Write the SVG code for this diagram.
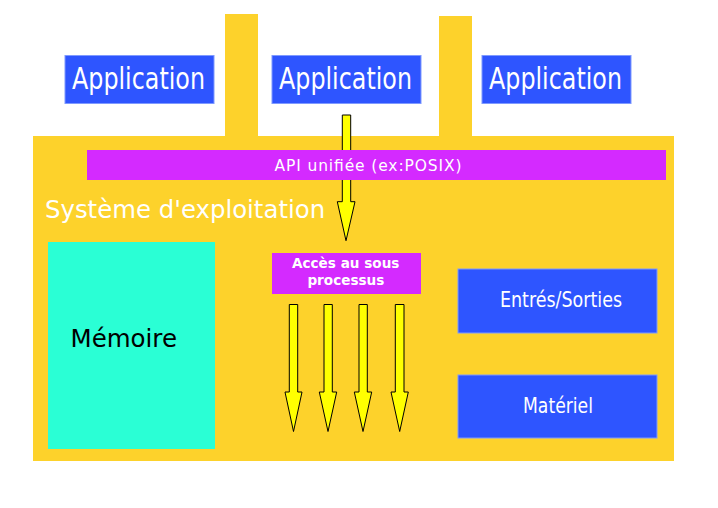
<svg xmlns="http://www.w3.org/2000/svg" width="718" height="508" viewBox="0 0 718 508">
<style>
.blue{fill:#2e55ff;stroke:#7f9aff;stroke-width:1}
.mag{fill:#d42aff}
.cond{font-family:"DejaVu Sans Condensed","DejaVu Sans",sans-serif;fill:#ffffff}
.sans{font-family:"DejaVu Sans",sans-serif}
.arr{fill:#ffff00;stroke:#000000;stroke-width:1;stroke-linejoin:miter}
</style>
<rect width="718" height="508" fill="#ffffff"/>
<g id="os">
<rect x="33" y="136" width="641" height="325" fill="#fdd22b"/>
<rect x="225" y="14" width="33" height="123" fill="#fdd22b"/>
<rect x="439" y="16" width="33" height="121" fill="#fdd22b"/>
<text x="45" y="218" class="sans" font-size="24.4" fill="#ffffff">Système d'exploitation</text>
</g>
<g id="connectors">
<path class="arr" d="M342.3,115 H350.7 V201.7 H355 L346,240.7 L337.3,201.7 H342.3 Z"/>
<path class="arr" d="M289.3,304.5 H297.7 V392 H302 L293.5,431.5 L285,392 H289.3 Z"/>
<path class="arr" d="M324,304.5 H332.3 V392 H336.7 L328,431.5 L319.3,392 H324 Z"/>
<path class="arr" d="M359,304.5 H367.3 V392 H371.7 L363,431.5 L354.3,392 H359 Z"/>
<path class="arr" d="M395.3,304.5 H404 V392 H408.3 L399.7,431.5 L391,392 H395.3 Z"/>
</g>
<g id="app1">
<rect x="65" y="55.5" width="149" height="48" class="blue"/>
<text x="138.5" y="89" class="cond" font-size="30" text-anchor="middle" textLength="133" lengthAdjust="spacingAndGlyphs">Application</text>
</g>
<g id="app2">
<rect x="272" y="55.5" width="149" height="48" class="blue"/>
<text x="345.5" y="89" class="cond" font-size="30" text-anchor="middle" textLength="133" lengthAdjust="spacingAndGlyphs">Application</text>
</g>
<g id="app3">
<rect x="482" y="55.5" width="149" height="48" class="blue"/>
<text x="555.5" y="89" class="cond" font-size="30" text-anchor="middle" textLength="133" lengthAdjust="spacingAndGlyphs">Application</text>
</g>
<g id="api">
<rect x="87" y="150" width="579" height="30" class="mag"/>
<text x="368" y="171" class="sans" font-size="15.5" fill="#ffffff" text-anchor="middle" textLength="187" lengthAdjust="spacing">API unifiée (ex:POSIX)</text>
</g>
<g id="memoire">
<rect x="48" y="242" width="167" height="207" fill="#2affd5"/>
<text x="70.5" y="347" class="sans" font-size="24.5" fill="#000000">Mémoire</text>
</g>
<g id="acces">
<rect x="272" y="253" width="149" height="41" class="mag"/>
<text x="345.7" y="268" class="sans" font-size="13.6" font-weight="bold" fill="#ffffff" text-anchor="middle">Accès au sous</text>
<text x="345.9" y="285" class="sans" font-size="13.6" font-weight="bold" fill="#ffffff" text-anchor="middle">processus</text>
</g>
<g id="es">
<rect x="458" y="269" width="199" height="64" class="blue"/>
<text x="561" y="307" class="cond" font-size="22" text-anchor="middle" textLength="122" lengthAdjust="spacingAndGlyphs">Entrés/Sorties</text>
</g>
<g id="materiel">
<rect x="458" y="375" width="199" height="63" class="blue"/>
<text x="558" y="413" class="cond" font-size="22" text-anchor="middle" textLength="70" lengthAdjust="spacingAndGlyphs">Matériel</text>
</g>
</svg>
